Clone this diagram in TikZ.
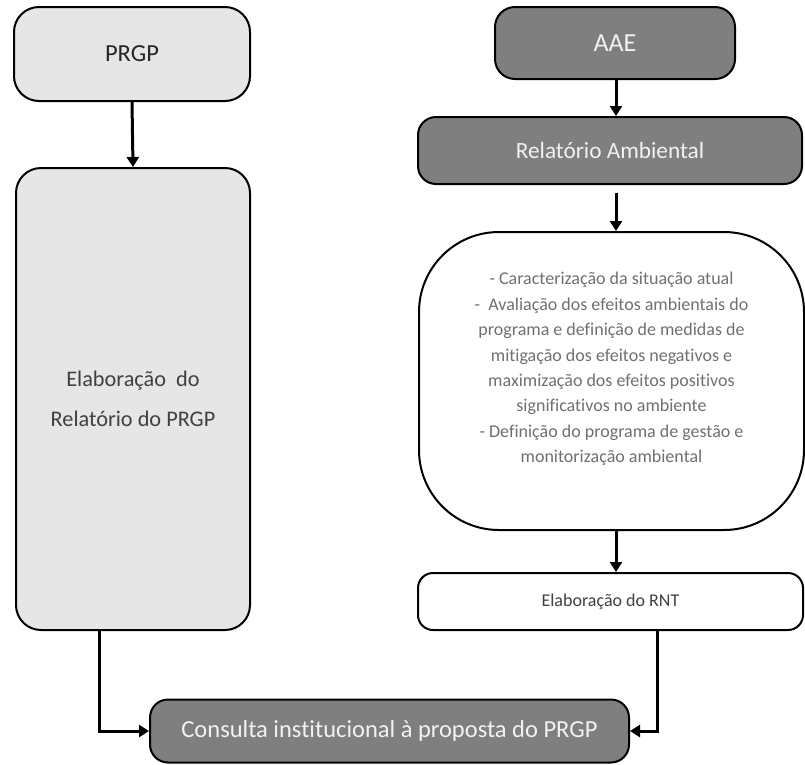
\documentclass[tikz,border=0pt]{standalone}
\usepackage{fontspec}
\setmainfont{Carlito}[Ligatures=NoCommon]
\usetikzlibrary{arrows.meta}
\definecolor{lightbox}{HTML}{E6E6E6}
\definecolor{darkbox}{HTML}{7F7F7F}
\definecolor{lighttext}{HTML}{F2F2F2}
\definecolor{darktext}{HTML}{262626}
\definecolor{midtext}{HTML}{404040}
\definecolor{greytext}{HTML}{707070}
\begin{document}
\begin{tikzpicture}[x=1pt,y=-1pt,
  box/.style={draw=black, line width=2pt, rectangle, align=center, inner sep=0pt},
  lightnode/.style={box, fill=lightbox},
  darknode/.style={box, fill=darkbox, text=lighttext},
  whitenode/.style={box, fill=white},
  arr/.style={draw=black, line width=3pt, -{Triangle[length=10pt,width=12pt]}}
]
\useasboundingbox (0,0) rectangle (805,764);
\node[lightnode, rounded corners=25pt, minimum width=236pt, minimum height=94pt, text=darktext, font=\fontsize{24.5}{28}\selectfont] (prgp) at (132,54) {PRGP};
\node[lightnode, rounded corners=25pt, minimum width=234pt, minimum height=462pt, text=midtext, font=\fontsize{22.3}{40}\selectfont] (elab) at (133,399) {Elaboração\ \ do\\Relatório do PRGP};
\node[darknode, rounded corners=20pt, minimum width=240pt, minimum height=72pt, font=\fontsize{26}{28}\selectfont] (aae) at (615,43) {AAE};
\node[darknode, rounded corners=18pt, minimum width=384pt, minimum height=67pt, font=\fontsize{23.3}{25}\selectfont] (ra) at (610,150.5) {Relatório Ambiental};
\node[whitenode, rounded corners=80pt, minimum width=385pt, minimum height=298pt] (big) at (611.5,381) {};
\node[align=center, inner sep=0pt, text=greytext, font=\fontsize{18}{25.4}\selectfont] (bigtext) at ([yshift=12pt]big.center) {- Caracterização da situação atual\\-\ \ Avaliação dos efeitos ambientais do\\programa e definição de medidas de\\mitigação dos efeitos negativos e\\maximização dos efeitos positivos\\significativos no ambiente\\- Definição do programa de gestão e\\monitorização ambiental};
\node[whitenode, rounded corners=15pt, minimum width=385pt, minimum height=57pt, text=midtext, font=\fontsize{18}{20}\selectfont] (rnt) at (610.5,601.5) {Elaboração do RNT};
\node[darknode, rounded corners=18pt, minimum width=479pt, minimum height=63pt, font=\fontsize{24.5}{26}\selectfont] (cons) at (389.5,731) {Consulta institucional à proposta do PRGP};
\coordinate (colR) at (616,0);
\coordinate (colL) at (99,0);
\coordinate (colRNT) at (657,0);
\draw[arr] (prgp.south) -- (elab.north);
\draw[arr] (aae.south -| colR) -- (ra.north -| colR);
\draw[arr] ([yshift=-8pt]ra.south -| colR) -- (big.north -| colR);
\draw[arr] (big.south -| colR) -- (rnt.north -| colR);
\draw[arr] (elab.south -| colL) |- (cons.west);
\draw[arr] (rnt.south -| colRNT) |- (cons.east);
\end{tikzpicture}
\end{document}
